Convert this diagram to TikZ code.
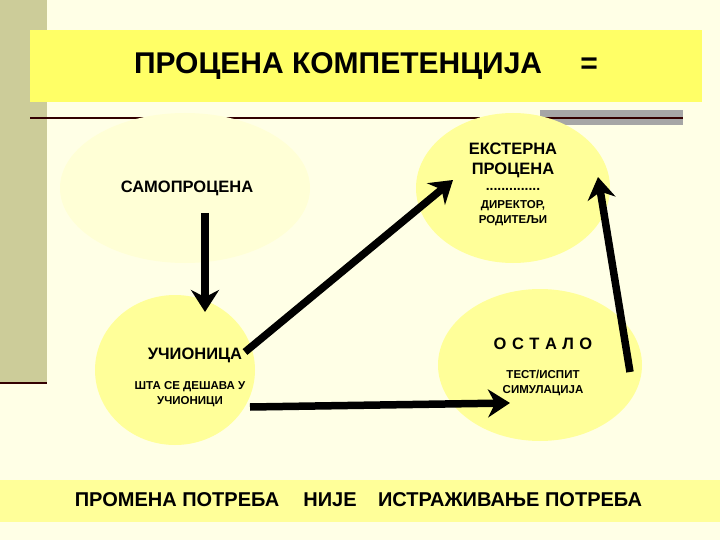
\documentclass[tikz,border=0pt]{standalone}
\usepackage{fontspec}
\setmainfont{Liberation Sans}
\usetikzlibrary{arrows.meta}
\definecolor{bg}{HTML}{FFFFE6}
\definecolor{bar}{HTML}{CCCC99}
\definecolor{ban}{HTML}{FFFF66}
\definecolor{ell}{HTML}{FFFF99}
\definecolor{pale}{HTML}{FFFFD6}
\tikzset{
  arrx/.style={line width=7.5pt,-{Stealth[length=22pt,width=28pt]}},
  lbl/.style={font=\bfseries\fontsize{16.5}{20}\selectfont,align=center},
  sml/.style={font=\bfseries\fontsize{11.5}{15}\selectfont,align=center},
  bot/.style={font=\bfseries\fontsize{20}{24}\selectfont}
}
\begin{document}
\begin{tikzpicture}[x=1pt,y=-1pt]
\useasboundingbox (0,0) rectangle (720,540);
\fill[bg] (0,0) rectangle (720,540);
\fill[bar] (0,0) rectangle (47,383);
\draw[line width=2pt,black!80!red] (0,383) -- (47,383);
\fill[ban] (30,30) rectangle (702,102);
\node[font=\bfseries\fontsize{30}{36}\selectfont] (title) at (366,66) {ПРОЦЕНА КОМПЕТЕНЦИЈА \quad =};
\fill[black!35] (540,110) rectangle (683,125);
\draw[line width=1.5pt,black!80!red] (30,118) -- (145,118) (225,118) -- (480,118) (540,118) -- (683,118);
\fill[pale] (185,188) ellipse [x radius=125,y radius=75];
\fill[ell] (513,188) ellipse [x radius=97,y radius=75];
\fill[ell] (175,370) ellipse [x radius=80,y radius=75];
\fill[ell] (540,365) ellipse [x radius=102,y radius=76];
\fill[ell] (0,480) rectangle (720,522);
\node[lbl] (samo) at (187,188) {САМОПРОЦЕНА};
\node[lbl,align=center] (ekst) at (513,160) {ЕКСТЕРНА\\ПРОЦЕНА};
\node[sml] (dots) at (513,189) {\fontsize{14}{14}\selectfont ..............};
\node[sml] (dir) at (513,213) {ДИРЕКТОР,\\РОДИТЕЉИ};
\node[lbl] (uci) at (195,355) {УЧИОНИЦА};
\node[sml] (sta) at (190,394) {ШТА СЕ ДЕШАВА У\\УЧИОНИЦИ};
\node[lbl] (ost) at (543,344) {О\,\,С\,\,Т\,\,А\,\,Л\,\,О};
\node[sml] (test) at (543,383) {ТЕСТ/ИСПИТ\\СИМУЛАЦИЈА};
\node[bot] (pp) at (177,500) {ПРОМЕНА ПОТРЕБА};
\node[bot] (nije) at (330,500) {НИЈЕ};
\node[bot] (ip) at (510,500) {ИСТРАЖИВАЊЕ ПОТРЕБА};
\coordinate (a1) at (205,213); \coordinate (a2) at (205,312);
\coordinate (b1) at (245,352); \coordinate (b2) at (453,180);
\coordinate (c1) at (250,407); \coordinate (c2) at (510,403);
\coordinate (d1) at (630,372); \coordinate (d2) at (598,177);
\draw[arrx] (a1) -- (a2);
\draw[arrx] (b1) -- (b2);
\draw[arrx] (c1) -- (c2);
\draw[arrx] (d1) -- (d2);
\end{tikzpicture}
\end{document}
